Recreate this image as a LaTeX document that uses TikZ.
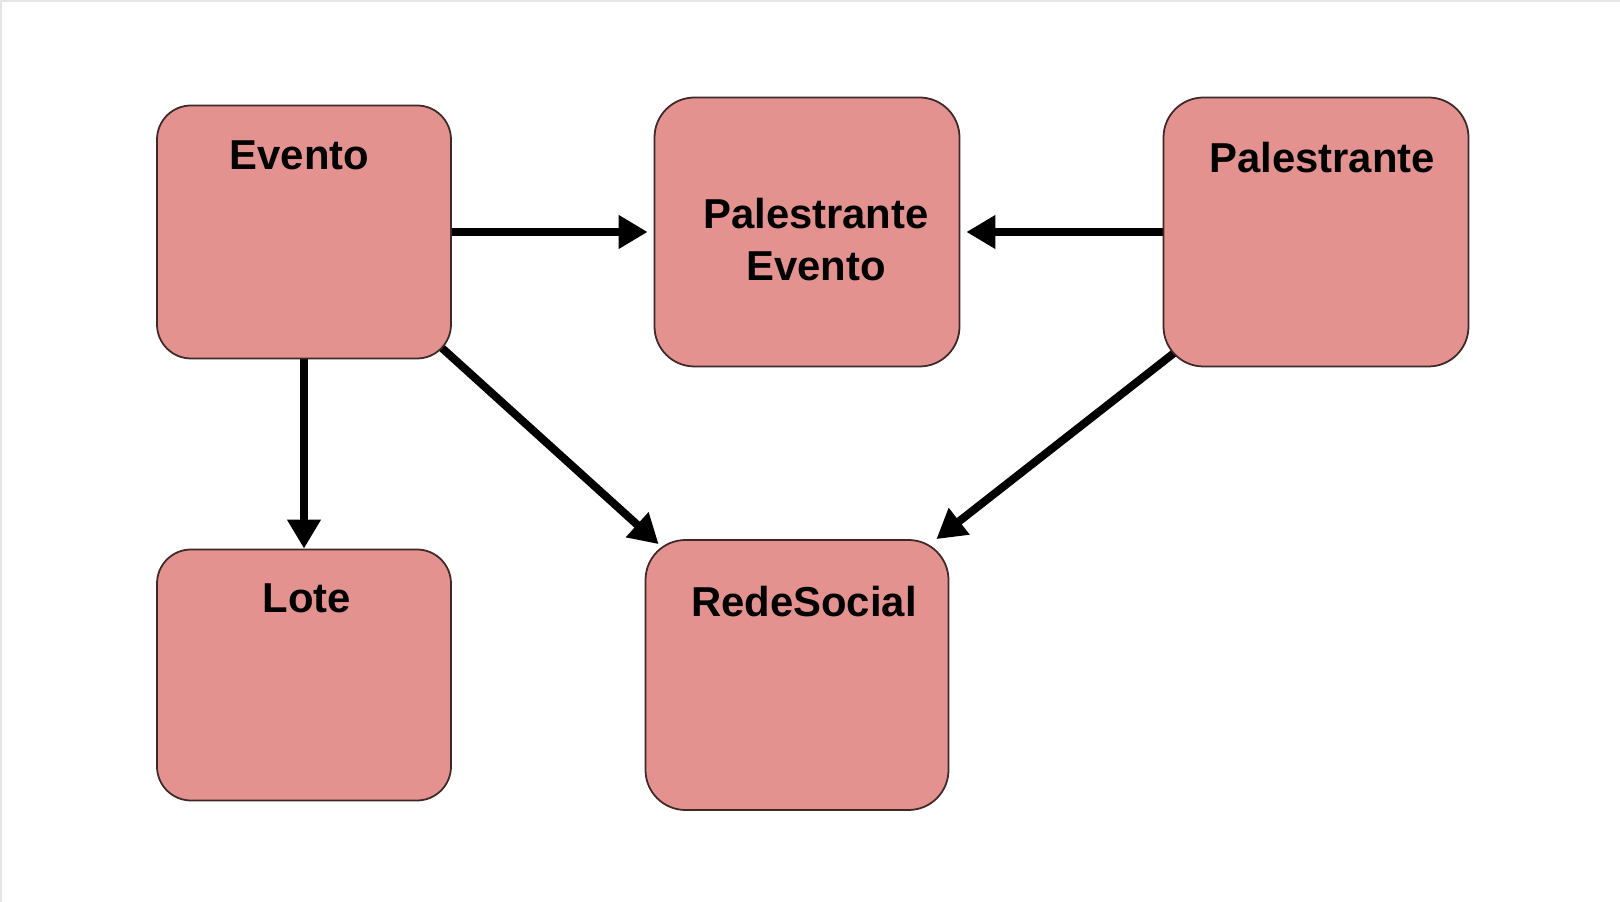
\documentclass[tikz,border=0pt]{standalone}
\usepackage{fontspec}
\setmainfont{Liberation Sans}
\usetikzlibrary{arrows.meta,backgrounds}

\definecolor{boxfill}{RGB}{228,146,144}
\definecolor{boxborder}{RGB}{62,40,40}

\begin{document}
\begin{tikzpicture}[x=1mm, y=-1mm, >={Triangle[length=2.9mm,width=3.2mm]},
		entidade/.style={draw=boxborder, line width=0.5pt, fill=boxfill, rounded corners=3.4mm, inner sep=0pt},
		grande/.style={entidade, rounded corners=4mm, minimum width=30.5mm, minimum height=26.9mm},
		rotulo/.style={font=\fontsize{11.9}{14.7}\selectfont\bfseries, align=center, anchor=center},
		seta/.style={->, line width=0.8mm}]
		% Frame
		\useasboundingbox (0,0) rectangle (162,90.2);
		\draw[gray!20, line width=0.7pt] (0.12,90.2) -- (0.12,0.12) -- (162,0.12);
		
		% Boxes
		\node[entidade, minimum width=29.4mm, minimum height=25.3mm,
			label={[rotulo, xshift=-0.45mm, yshift=-5.1mm]north:Evento}] (evento) at (30.4,23.2) {};
		\node[grande,
			label={[rotulo, xshift=0.9mm, yshift=-0.75mm]center:{Palestrante\\Evento}}] (pe) at (80.7,23.2) {};
		\node[grande,
			label={[rotulo, xshift=0.6mm, yshift=-6.1mm]north:Palestrante}] (palestrante) at (131.6,23.2) {};
		\node[entidade, minimum width=29.4mm, minimum height=25.1mm,
			label={[rotulo, xshift=0.3mm, yshift=-5.0mm]north:Lote}] (lote) at (30.4,67.5) {};
		\node[grande, minimum width=30.3mm, minimum height=27mm,
			label={[rotulo, xshift=0.7mm, yshift=-6.2mm]north:RedeSocial}] (rede) at (79.7,67.5) {};
		
		% Arrows
		\begin{scope}[on background layer]
			\draw[seta] (evento.east) -- ([xshift=-0.6mm]pe.west);
			\draw[seta] (palestrante.west) -- ([xshift=0.6mm]pe.east);
			\draw[seta] (evento.south) -- (lote.north);
			\draw[seta] ([xshift=-2.5mm,yshift=2.5mm]evento.south east) -- ([xshift=1.4mm,yshift=-0.5mm]rede.north west);
			\draw[seta] ([xshift=2.5mm,yshift=2.5mm]palestrante.south west) -- ([xshift=-1.3mm]rede.north east);
		\end{scope}
		
	\end{tikzpicture}
\end{document}
